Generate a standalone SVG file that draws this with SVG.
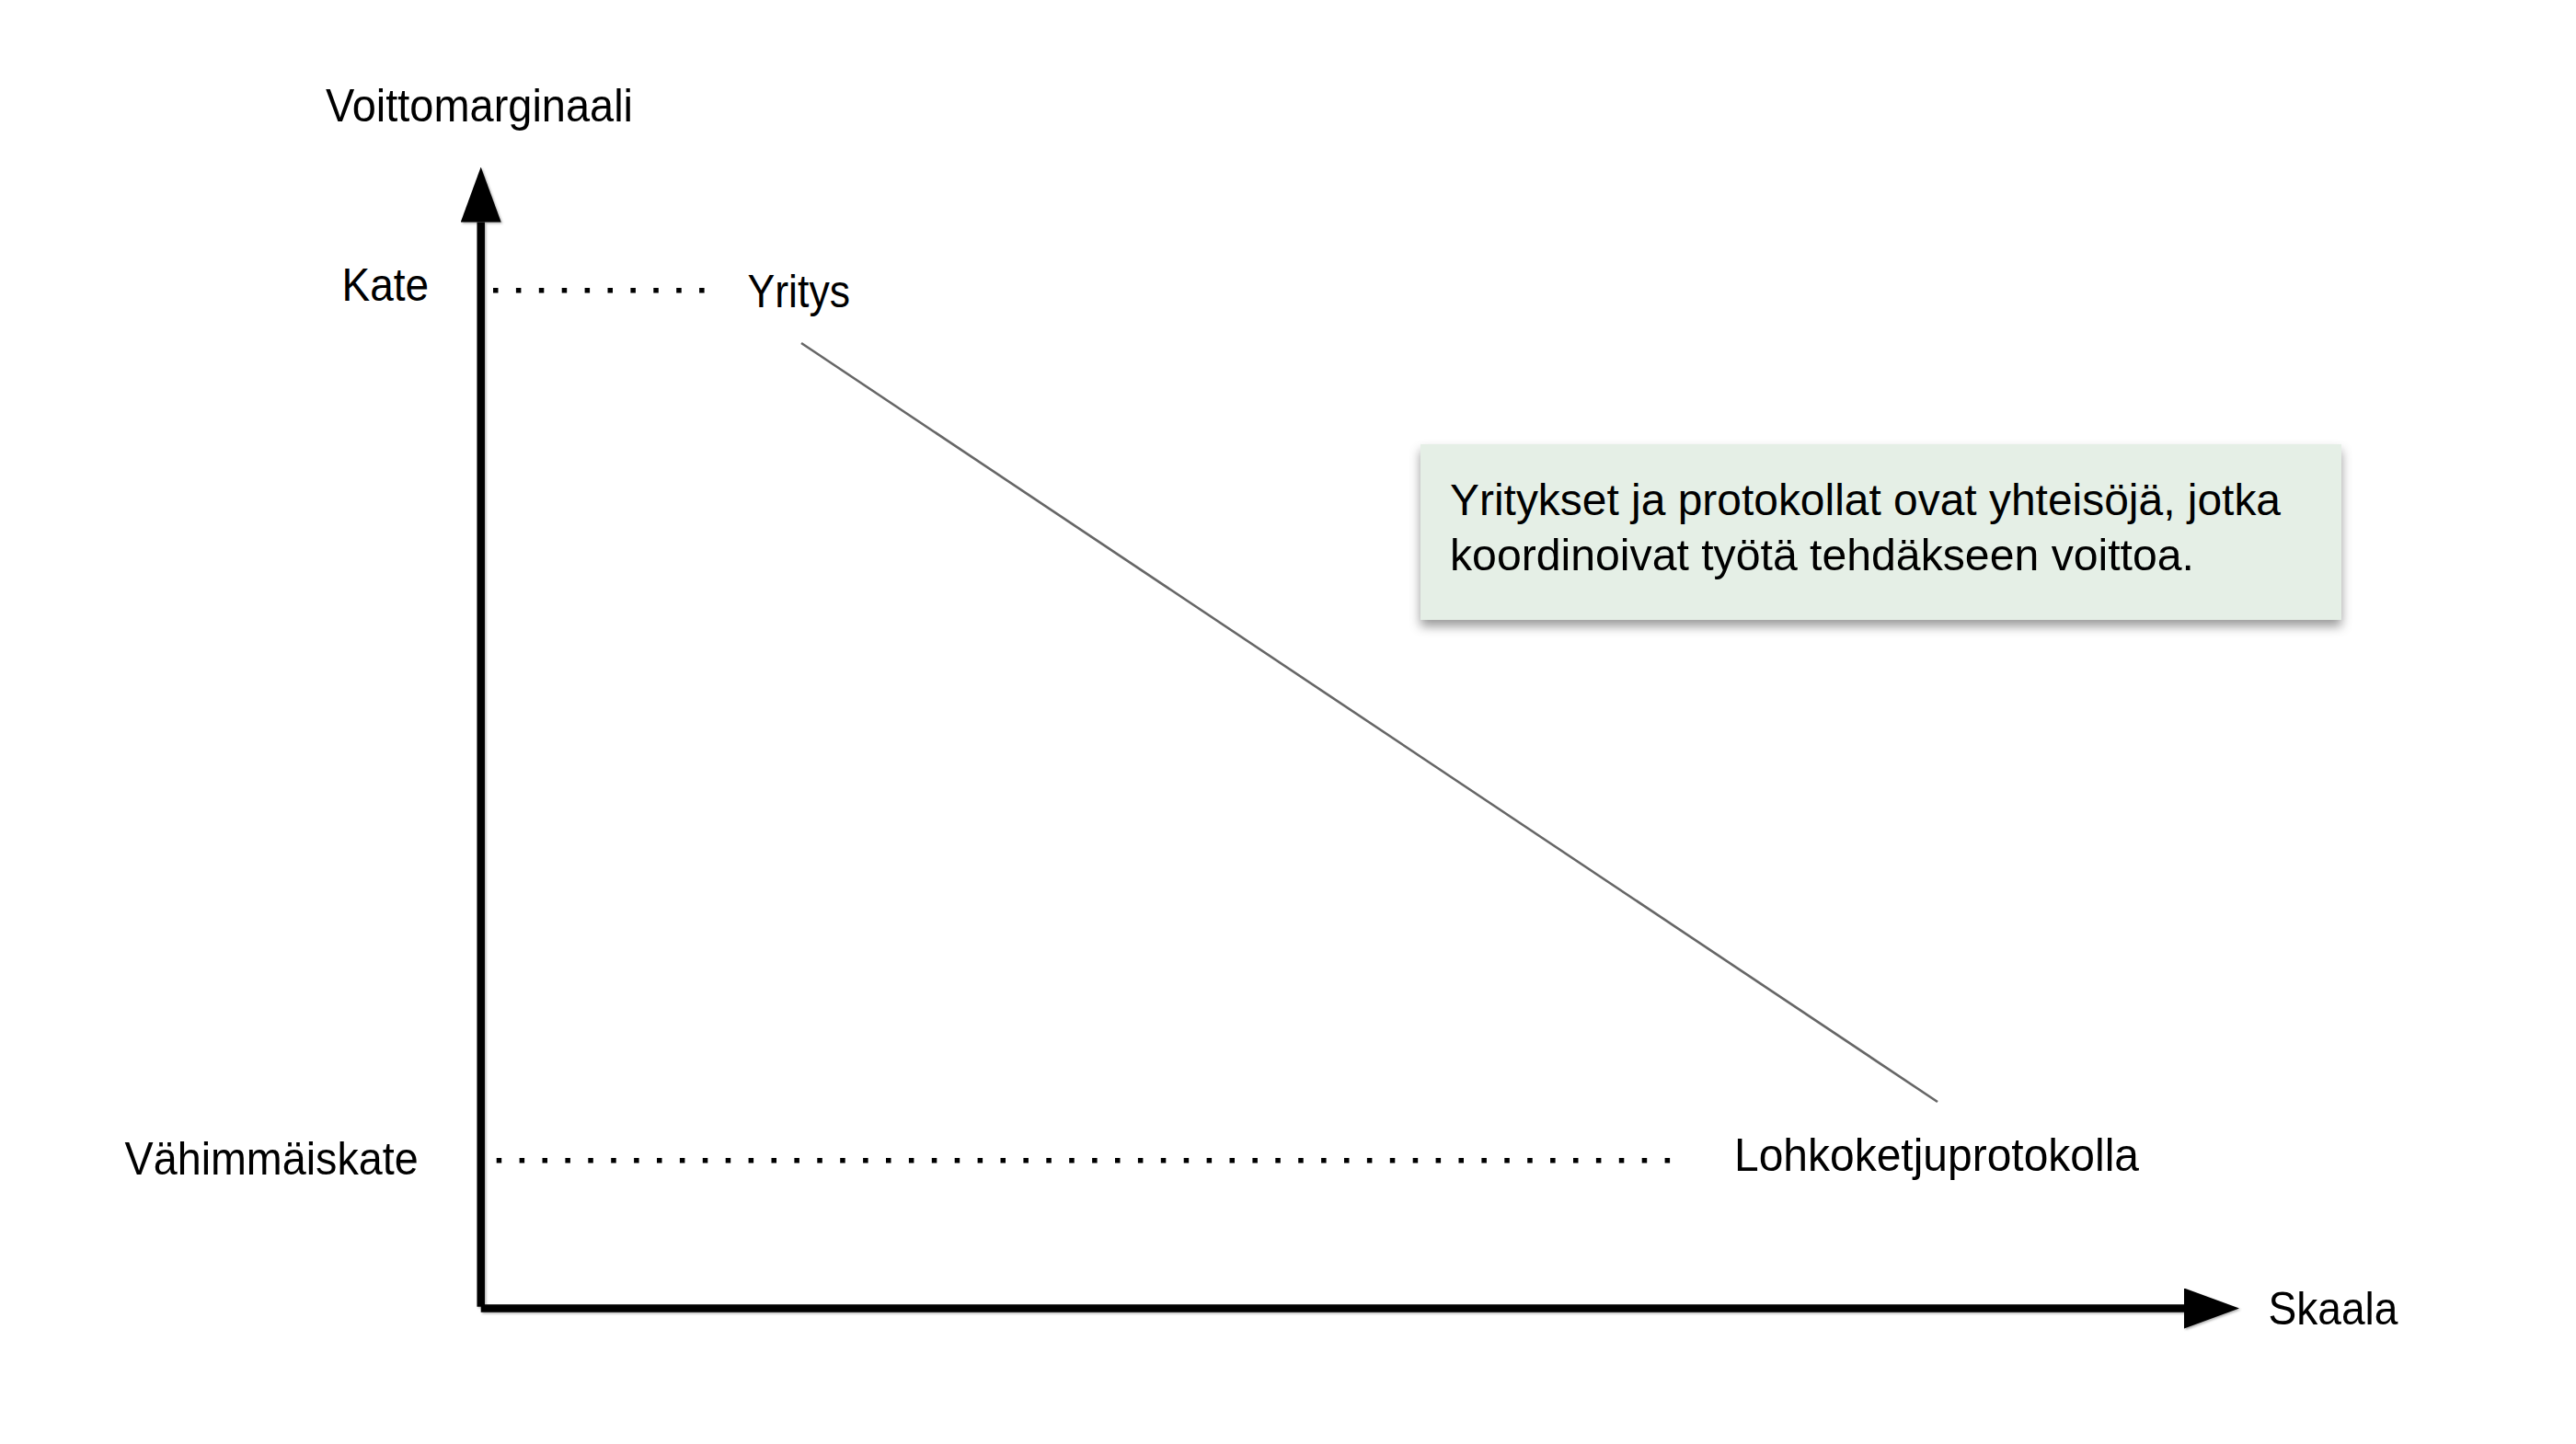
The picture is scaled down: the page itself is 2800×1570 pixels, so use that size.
<svg xmlns="http://www.w3.org/2000/svg" width="2800" height="1570" viewBox="0 0 2800 1570">
  <style>
    .lbl { font-family: "Liberation Sans", Arial, Helvetica, sans-serif; font-size: 50px; fill: #000; }
    .note { font-family: "Liberation Sans", Arial, Helvetica, sans-serif; font-size: 48px; fill: #000; }
    .axis { stroke: #000; stroke-width: 8.5; fill: none; }
    .dots { stroke: #000; stroke-width: 5.5; stroke-dasharray: 5.5 19.4; fill: none; }
    .trend { stroke: #666; stroke-width: 2.6; fill: none; }
  </style>
  <defs>
    <marker id="arrow" viewBox="0 0 60 44" refX="0" refY="22" markerWidth="60" markerHeight="44" markerUnits="userSpaceOnUse" orient="auto">
      <path d="M0,0 L60,22 L0,44 Z" fill="#000"/>
    </marker>
    <filter id="boxShadow" x="-5%" y="-10%" width="110%" height="130%">
      <feDropShadow dx="0" dy="7" stdDeviation="6" flood-color="#000" flood-opacity="0.4"/>
    </filter>
    <filter id="axisShadow" filterUnits="userSpaceOnUse" x="0" y="0" width="2800" height="1570">
      <feDropShadow dx="1.5" dy="1.5" stdDeviation="0.8" flood-color="#000" flood-opacity="0.3"/>
    </filter>
  </defs>
  <rect width="2800" height="1570" fill="#fff"/>

  <g id="connectors">
    <g id="axes" filter="url(#axisShadow)">
      <line class="axis" x1="522.7" y1="1420.7" x2="522.7" y2="241.5" marker-end="url(#arrow)"/>
      <line class="axis" x1="522.7" y1="1422.5" x2="2374" y2="1422.5" marker-end="url(#arrow)"/>
    </g>
    <line class="dots" x1="536" y1="315.7" x2="766" y2="315.7"/>
    <line class="dots" x1="539.7" y1="1261.8" x2="1815.5" y2="1261.8"/>
    <line class="trend" x1="871" y1="373" x2="2106" y2="1198"/>
  </g>

  <g id="label-voittomarginaali">
    <text class="lbl" x="354" y="132" textLength="334" lengthAdjust="spacingAndGlyphs">Voittomarginaali</text>
  </g>
  <g id="label-kate">
    <text class="lbl" x="371.5" y="327" textLength="94.5" lengthAdjust="spacingAndGlyphs">Kate</text>
  </g>
  <g id="node-yritys">
    <text class="lbl" x="812.5" y="334" textLength="111.5" lengthAdjust="spacingAndGlyphs">Yritys</text>
  </g>
  <g id="label-vahimmaiskate">
    <text class="lbl" x="135.6" y="1277" textLength="319" lengthAdjust="spacingAndGlyphs">Vähimmäiskate</text>
  </g>
  <g id="node-lohkoketjuprotokolla">
    <text class="lbl" x="1885" y="1273" textLength="440" lengthAdjust="spacingAndGlyphs">Lohkoketjuprotokolla</text>
  </g>
  <g id="label-skaala">
    <text class="lbl" x="2465.5" y="1440" textLength="141" lengthAdjust="spacingAndGlyphs">Skaala</text>
  </g>
  <g id="note">
    <rect x="1544" y="483" width="1001" height="191" fill="#E5EFE6" filter="url(#boxShadow)"/>
    <text class="note" x="1576" y="560" textLength="903" lengthAdjust="spacingAndGlyphs">Yritykset ja protokollat ovat yhteisöjä, jotka</text>
    <text class="note" x="1576" y="620" textLength="809" lengthAdjust="spacingAndGlyphs">koordinoivat työtä tehdäkseen voittoa.</text>
  </g>
</svg>
